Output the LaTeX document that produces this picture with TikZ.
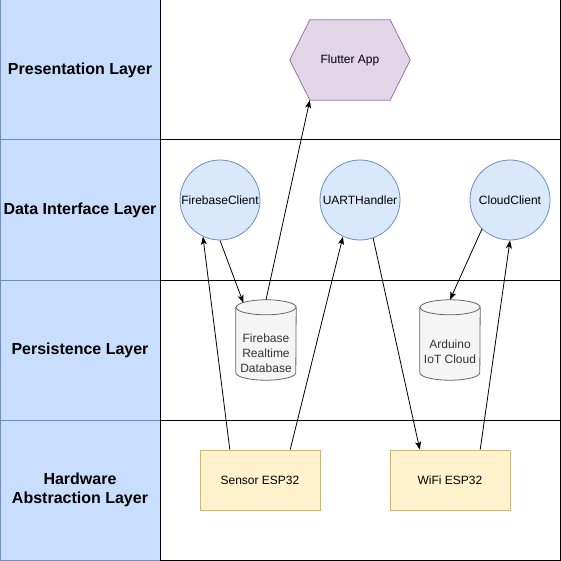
\documentclass[tikz,border=0pt]{standalone}
\usepackage{fontspec}
\setmainfont{Liberation Sans}
\usetikzlibrary{calc,positioning,arrows.meta,shapes.geometric,backgrounds}
\definecolor{layerfill}{RGB}{201,222,252}
\definecolor{layerdraw}{RGB}{108,142,191}
\definecolor{clientfill}{RGB}{218,232,252}
\definecolor{clientdraw}{RGB}{108,142,191}
\definecolor{appfill}{RGB}{225,213,231}
\definecolor{appdraw}{RGB}{150,115,166}
\definecolor{dbfill}{RGB}{245,245,245}
\definecolor{dbdraw}{RGB}{102,102,102}
\definecolor{dbfont}{RGB}{51,51,51}
\definecolor{espfill}{RGB}{255,242,204}
\definecolor{espdraw}{RGB}{214,182,86}
\tikzset{
  line/.style={-{Stealth[length=8pt, width=6pt, inset=2pt]}, line width=0.8pt},
  layer/.style={draw=layerdraw, fill=layerfill, line width=1pt, align=center,
    minimum width=160pt, minimum height=140pt, font=\fontsize{16}{19}\selectfont\bfseries},
  row/.style={draw=black, line width=1pt, minimum width=400pt, minimum height=140pt},
  client/.style={circle, draw=clientdraw, fill=clientfill, line width=0.8pt,
    minimum size=80pt, inner sep=0pt, font=\fontsize{12}{14}\selectfont},
  db/.style={minimum width=60pt, minimum height=80pt, inner sep=0pt},
  dbshape/.style={draw=dbdraw, fill=dbfill, line width=0.8pt},
  dblabel/.style={align=center, text=dbfont, font=\fontsize{12}{15}\selectfont},
  esp/.style={draw=espdraw, fill=espfill, line width=0.8pt,
    minimum width=120pt, minimum height=60pt, font=\fontsize{12}{14}\selectfont},
  appbox/.style={minimum width=120pt, minimum height=80pt, font=\fontsize{12}{14}\selectfont},
  hexline/.style={draw=appdraw, fill=appfill, line width=0.8pt}
}
\begin{document}
\begin{tikzpicture}[x=1pt, y=-1pt]
  \useasboundingbox (0,0) rectangle (561,561);
  % layer column
  \node[layer] (pres)  at (80,70)  {Presentation Layer};
  \node[layer] (iface) at (80,210) {Data Interface Layer};
  \node[layer] (pers)  at (80,350) {Persistence Layer};
  \node[layer] (hal)   at (80,490) {Hardware\\Abstraction Layer};
  \node[row] (pres-row)  at (360,70)  {};
  \node[row] (iface-row) at (360,210) {};
  \node[row] (pers-row)  at (360,350) {};
  \node[row] (hal-row)   at (360,490) {};
  % components
  \node[appbox] (app) at (350,60) {Flutter App};
  \begin{scope}[on background layer]
    \draw[hexline] (app.west) -- ($(app.north west)+(20,0)$) -- ($(app.north east)+(-20,0)$)
      -- (app.east) -- ($(app.south east)+(-20,0)$) -- ($(app.south west)+(20,0)$) -- cycle;
  \end{scope}
  \node[client] (fbclient)    at (220,200) {FirebaseClient};
  \node[client] (uart)        at (360,200) {UARTHandler};
  \node[client] (cloudclient) at (510,200) {CloudClient};
  \node[db] (fbdb)  at (266,340) {};
  \draw[dbshape] ($(fbdb.north west)+(0,7.5)$) -- ($(fbdb.south west)+(0,-7.5)$)
    arc[start angle=180, end angle=0, x radius=30, y radius=7.5]
    -- ($(fbdb.north east)+(0,7.5)$) arc[start angle=0, end angle=-180, x radius=30, y radius=7.5] -- cycle;
  \draw[dbshape, fill=none] ($(fbdb.north west)+(0,7.5)$) arc[start angle=180, end angle=0, x radius=30, y radius=7.5];
  \node[dblabel] (fbdb-label) at ($(fbdb.center)+(0,13)$) {Firebase\\Realtime\\Database};
  \node[db] (iotdb) at (450,340) {};
  \draw[dbshape] ($(iotdb.north west)+(0,7.5)$) -- ($(iotdb.south west)+(0,-7.5)$)
    arc[start angle=180, end angle=0, x radius=30, y radius=7.5]
    -- ($(iotdb.north east)+(0,7.5)$) arc[start angle=0, end angle=-180, x radius=30, y radius=7.5] -- cycle;
  \draw[dbshape, fill=none] ($(iotdb.north west)+(0,7.5)$) arc[start angle=180, end angle=0, x radius=30, y radius=7.5];
  \node[dblabel] (iotdb-label) at ($(iotdb.center)+(0,12)$) {Arduino\\IoT Cloud};
  \node[esp] (sensor) at (260,480) {Sensor ESP32};
  \node[esp] (wifi)   at (450,480) {WiFi ESP32};
  % connectors
  \draw[line] (fbdb.north) -- ($(app.south west)+(20,0)$);
  \draw[line] (fbclient.south) -- ($(fbdb.north)!0.75!(fbdb.north west)+(0,3)$);
  \draw[line] ($(sensor.north west)!0.25!(sensor.north east)$) -- (fbclient.245);
  \draw[line] ($(sensor.north west)!0.75!(sensor.north east)$) -- (uart.245);
  \draw[line] (uart.289) -- ($(wifi.north west)!0.25!(wifi.north east)$);
  \draw[line] ($(wifi.north west)!0.75!(wifi.north east)$) -- (cloudclient.270);
  \draw[line] (cloudclient.226) -- (iotdb.north);
\end{tikzpicture}
\end{document}
